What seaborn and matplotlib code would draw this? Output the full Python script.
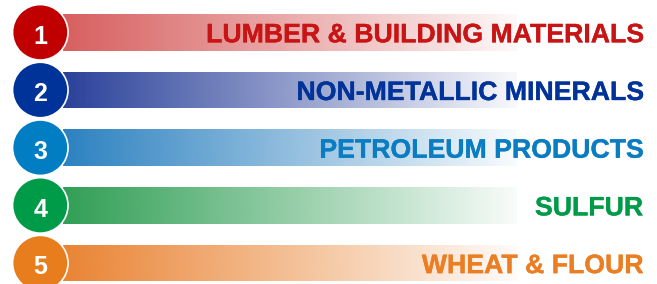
import numpy as np
import pandas as pd
import matplotlib
matplotlib.use("Agg")
import matplotlib.pyplot as plt
import matplotlib.patheffects as pe
import seaborn as sns
from matplotlib.colors import to_rgb
from matplotlib import font_manager as fm

# ---- data ----
ranks = [1, 2, 3, 4, 5]
categories = ["LUMBER & BUILDING MATERIALS", "NON-METALLIC MINERALS",
              "PETROLEUM PRODUCTS", "SULFUR", "WHEAT & FLOUR"]
bar_length = [1, 1, 1, 1, 1]
circle_colors = ["#C00000", "#003399", "#007DC3", "#009B48", "#E87D1E"]
bar_colors = ["#C00000", "#1E3694", "#1473B9", "#1E9646", "#E97D28"]
bar_start_alpha = [0.63, 0.95, 0.9, 0.92, 0.95]
text_colors = ["#C81414", "#003399", "#0A7DC2", "#009B48", "#EB7D23"]

# ---- layout (pixel based) ----
W, H = 657, 284
px_unit_x = 454.0
bar_x0_px = 63.0
row0_px = 32.3
row_step_px = 57.7
bar_h_px = 36.7
circle_cx_px = 40.3
circle_d_px = 55.5
text_right_px = 643

sns.set_theme(style="white")
plt.rcParams["font.family"] = ["Liberation Sans", "DejaVu Sans"]

bold_path = None
for fam in ["Liberation Sans", "Arimo", "Roboto", "Open Sans", "Lato"]:
    for f in fm.fontManager.ttflist:
        if f.name == fam and f.style == "normal" and \
                (f.weight in ("bold", 700) or "Bold" in f.fname):
            bold_path = f.fname
            break
    if bold_path:
        break
bold_fp = fm.FontProperties(fname=bold_path) if bold_path else \
    fm.FontProperties(family="DejaVu Sans", weight="bold")

fig = plt.figure(figsize=(W / 100, H / 100), dpi=100)
ax = fig.add_axes([0, 0, 1, 1])

df = pd.DataFrame({"category": categories, "length": bar_length, "rank": ranks})
sns.barplot(data=df, x="length", y="category", orient="h", ax=ax,
            width=bar_h_px / row_step_px, color="white", linewidth=0,
            zorder=1)

xlim = (-bar_x0_px / px_unit_x, (W - bar_x0_px) / px_unit_x)
ylim = ((H - row0_px) / row_step_px, -row0_px / row_step_px)

N = 300
for patch, col, a0 in zip(ax.patches, bar_colors, bar_start_alpha):
    patch.set_facecolor("none")
    bx, by = patch.get_x(), patch.get_y()
    bw, bh = patch.get_width(), patch.get_height()
    rgb = to_rgb(col)
    grad = np.zeros((1, N, 4))
    grad[..., 0], grad[..., 1], grad[..., 2] = rgb
    grad[..., 3] = np.linspace(a0, 0.03, N)
    im = ax.imshow(grad, extent=(bx, bx + bw, by + bh, by), aspect="auto",
                   interpolation="bilinear", zorder=1)
    im.set_clip_path(patch)

cx = (circle_cx_px - bar_x0_px) / px_unit_x
s_pt = circle_d_px * 72 / 100
sns.scatterplot(x=[cx] * len(ranks), y=list(range(len(ranks))), hue=categories,
                palette=circle_colors, s=s_pt ** 2, edgecolor="white",
                linewidth=1.2, legend=False, ax=ax, zorder=3)

tx = (text_right_px - bar_x0_px) / px_unit_x
for i, (r, cat, tc) in enumerate(zip(ranks, categories, text_colors)):
    fp_num = bold_fp.copy()
    fp_num.set_size(18)
    fp_lab = bold_fp.copy()
    fp_lab.set_size(19.2)
    ax.text(cx, i + 11.3 / row_step_px, str(r), color="white",
            fontproperties=fp_num, ha="center", va="baseline", zorder=4)
    ax.text(tx - 0.15 / px_unit_x, i + 10.0 / row_step_px, cat, color=tc,
            fontproperties=fp_lab, ha="right", va="baseline", zorder=4,
            path_effects=[pe.withStroke(linewidth=0.25, foreground=tc)])

ax.set_xlim(*xlim)
ax.set_ylim(*ylim)
ax.set_axis_off()
fig.savefig("out.png", dpi=100, facecolor="white")
